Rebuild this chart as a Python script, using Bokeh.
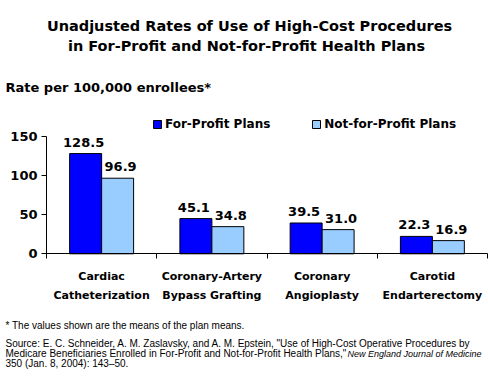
from bokeh.plotting import figure
from bokeh.models import (ColumnDataSource, Range1d, LinearAxis, FixedTicker, Label,
                          LabelSet, Legend, LegendItem)
from bokeh.core.properties import value
from bokeh.transform import dodge
from bokeh.embed import file_html
from bokeh.resources import INLINE

# ---- data ----
categories = ["Cardiac Catheterization", "Coronary-Artery Bypass Grafting",
              "Coronary Angioplasty", "Carotid Endarterectomy"]
cat_line1 = ["Cardiac", "Coronary-Artery", "Coronary", "Carotid"]
cat_line2 = ["Catheterization", "Bypass Grafting", "Angioplasty", "Endarterectomy"]
for_profit = [128.5, 45.1, 39.5, 22.3]
not_for_profit = [96.9, 34.8, 31.0, 16.9]
series_names = ["For-Profit Plans", "Not-for-Profit Plans"]
y_ticks = [0, 50, 100, 150]
title_lines = ["Unadjusted Rates of Use of High-Cost Procedures",
               "in For-Profit and Not-for-Profit Health Plans"]
y_title = "Rate per 100,000 enrollees*"
note = "* The values shown are the means of the plan means."
source_lines = ["Source: E. C. Schneider, A. M. Zaslavsky, and A. M. Epstein, \"Use of High-Cost Operative Procedures by",
                "Medicare Beneficiaries Enrolled in For-Profit and Not-for-Profit Health Plans,\"",
                "350 (Jan. 8, 2004): 143\u201350."]
journal = "New England Journal of Medicine"

BOLD = "DejaVu Sans"
REG = "Liberation Sans"
FP_COLOR = "#0000FF"
NFP_COLOR = "#99CCFF"

# ---- layout (pixels) ----
W, H = 488, 378
X0, Y0 = 46, 253.3        # pixel position of data origin (from top-left)
PX_X = 110.25             # pixels per category
PX_Y = 0.78               # pixels per unit of rate

n = len(categories)
src = ColumnDataSource(dict(
    x=[i + 0.5 for i in range(n)],
    fp=for_profit, nfp=not_for_profit,
    fp_t=[f"{v:.1f}" for v in for_profit],
    nfp_t=[f"{v:.1f}" for v in not_for_profit],
    l1=cat_line1, l2=cat_line2,
    y1=[H - 276] * n, y2=[H - 295] * n,
))

p = figure(width=W, height=H,
           x_range=Range1d(-X0 / PX_X, (W - X0) / PX_X),
           y_range=Range1d(-(H - Y0) / PX_Y, Y0 / PX_Y),
           output_backend="svg", toolbar_location=None,
           x_axis_location=None, y_axis_location=None,
           min_border_left=0, min_border_right=0, min_border_top=0, min_border_bottom=0)
p.outline_line_color = None
p.xgrid.visible = False
p.ygrid.visible = False
p.background_fill_color = "white"
p.border_fill_color = "white"

bw = 0.29
r1 = p.vbar(x=dodge("x", -bw / 2, range=p.x_range), top="fp", width=bw, source=src,
            fill_color=FP_COLOR, line_color="black", line_width=1)
r2 = p.vbar(x=dodge("x", bw / 2, range=p.x_range), top="nfp", width=bw, source=src,
            fill_color=NFP_COLOR, line_color="black", line_width=1)

# axes
yax = LinearAxis(ticker=FixedTicker(ticks=y_ticks), bounds=(0, 150), fixed_location=0)
yax.major_tick_in = 0
yax.major_tick_out = 5
yax.minor_tick_line_color = None
yax.axis_line_color = "black"
yax.major_label_text_font = BOLD
yax.major_label_text_font_style = "bold"
yax.major_label_text_font_size = "13px"
yax.major_label_text_color = "black"
yax.major_label_standoff = 4
p.add_layout(yax, "left")

xax = LinearAxis(ticker=FixedTicker(ticks=list(range(n + 1))), bounds=(0, n), fixed_location=0)
xax.major_tick_in = 0
xax.major_tick_out = 5
xax.minor_tick_line_color = None
xax.axis_line_color = "black"
xax.major_label_text_font_size = "0px"
xax.major_label_text_alpha = 0
p.add_layout(xax, "below")

# value labels
for col, txt, off, xo in (("fp", "fp_t", -bw / 2, -2), ("nfp", "nfp_t", bw / 2, 3)):
    p.add_layout(LabelSet(x=dodge("x", off, range=p.x_range), y=col, text=txt, source=src,
                          x_offset=xo, y_offset=7, text_align="center", text_baseline="alphabetic",
                          text_font=value(BOLD), text_font_style="bold", text_font_size="13px",
                          text_color="black"))

# category labels
for ycol, tcol in (("y1", "l1"), ("y2", "l2")):
    p.add_layout(LabelSet(x="x", y=ycol, y_units="screen", text=tcol, source=src,
                          text_align="center", text_baseline="middle",
                          text_font=value(BOLD), text_font_style="bold", text_font_size="11px",
                          text_color="black"))

# legend
legend = Legend(items=[LegendItem(label=series_names[0], renderers=[r1]),
                       LegendItem(label=series_names[1], renderers=[r2])],
                location=(152, H - 131), orientation="horizontal",
                padding=0, margin=0, spacing=41, border_line_color=None,
                background_fill_alpha=0, glyph_width=10, glyph_height=10,
                label_height=10, label_standoff=3,
                label_text_font=BOLD, label_text_font_style="bold",
                label_text_font_size="12px", label_text_color="black")
p.add_layout(legend)

def add_text(txt, x, y, font, size, style="normal", align="left"):
    p.add_layout(Label(x=x, y=H - y, x_units="screen", y_units="screen", text=txt,
                       text_align=align, text_baseline="middle",
                       text_font=font, text_font_style=style, text_font_size=size,
                       text_color="black"))

# titles (y given from top of figure)
add_text(title_lines[0], 249, 25, BOLD, "14.5px", "bold", "center")
add_text(title_lines[1], 246, 45, BOLD, "14.5px", "bold", "center")
add_text(y_title, 5, 87, BOLD, "13px", "bold")

# footnotes
add_text(note, 5, 325, REG, "10px")
for txt, yy in zip(source_lines, (343, 353, 363)):
    add_text(txt, 5, yy, REG, "10px")
add_text(journal, 347, 353, REG, "9px", "italic")

open("out.html", "w").write(file_html(p, INLINE))
